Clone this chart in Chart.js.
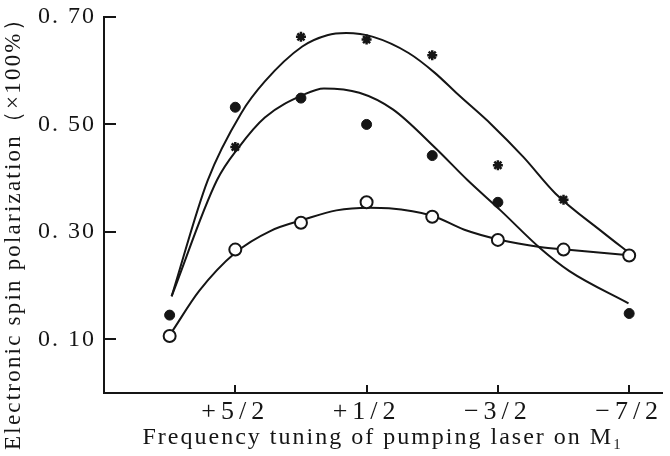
<!DOCTYPE html>
<html>
<head>
<meta charset="utf-8">
<script src="https://cdn.jsdelivr.net/npm/chart.js@4.4.0/dist/chart.umd.min.js"></script>
<style>
  html, body { margin: 0; padding: 0; background: #fff; }
</style>
</head>
<body>
<canvas id="chart" width="670" height="456"></canvas>
<script>
// M_I of the pumped hyperfine line (x) and measured polarization
const mValues = [3.5, 2.5, 1.5, 0.5, -0.5, -1.5, -2.5, -3.5];
const starPoints = [null, 0.458, 0.663, 0.658, 0.629, 0.424, 0.36, null];
const dotPoints = [0.145, 0.532, 0.549, 0.50, 0.442, 0.355, null, 0.148];
const ringPoints = [0.106, 0.267, 0.317, 0.355, 0.328, 0.285, 0.267, 0.256];

// hand drawn fit curves as [M, polarization]
const upperCurve = [[3.47, 0.18], [2.92, 0.396], [2.41, 0.521], [2.05, 0.580], [1.48, 0.645], [1.10, 0.666],
  [0.81, 0.670], [0.40, 0.663], [-0.14, 0.633], [-0.54, 0.596], [-0.89, 0.556], [-1.40, 0.500],
  [-1.89, 0.439], [-2.38, 0.371], [-3.09, 0.300], [-3.54, 0.257]];
const middleCurve = [[3.47, 0.18], [2.78, 0.396], [2.45, 0.457], [2.05, 0.513], [1.45, 0.556], [1.15, 0.567],
  [0.61, 0.559], [0.10, 0.528], [-0.54, 0.457], [-1.04, 0.396], [-1.54, 0.340],
  [-2.14, 0.270], [-2.59, 0.227], [-3.49, 0.167]];
const lowerCurve = [[3.46, 0.115], [3.05, 0.190], [2.50, 0.261], [1.96, 0.302], [1.45, 0.323], [0.96, 0.340],
  [0.46, 0.345], [0.16, 0.344], [-0.50, 0.330], [-0.99, 0.304], [-1.54, 0.285], [-2.14, 0.272],
  [-2.53, 0.267], [-3.54, 0.256]];

const xTickValues = [2.5, 0.5, -1.5, -3.5];
const xTickLabels = ['+5/2', '+1/2', '\u22123/2', '\u22127/2'];
const yTickValues = [0.1, 0.3, 0.5, 0.7];
const yTickLabels = ['0. 10', '0. 30', '0. 50', '0. 70'];

const xTitle = 'Frequency tuning of pumping laser on M\u2081';
const yTitle = 'Electronic spin polarization\uFF08\u00D7100%\uFF09';

const ink = '#151515';
const serif = '"Liberation Serif", "DejaVu Serif", serif';

const toPoints = vals => mValues.map((m, i) => ({ x: m, y: vals[i] })).filter(p => p.y !== null);
const toXY = pairs => pairs.map(p => ({ x: p[0], y: p[1] }));

const curve = pairs => ({
  data: toXY(pairs),
  showLine: true,
  borderColor: ink,
  borderWidth: 2,
  cubicInterpolationMode: 'monotone',
  pointRadius: 0,
  order: 2
});

// inward tick marks, the rotated y title and letter spacing of the print
const paperMarks = {
  id: 'paperMarks',
  beforeDraw(chart) {
    chart.ctx.letterSpacing = '2px';
  },
  afterDatasetsDraw(chart) {
    chart.ctx.letterSpacing = '5px';
  },
  afterDraw(chart) {
    const { ctx, chartArea } = chart;
    const x = chart.scales.x;
    const y = chart.scales.y;
    ctx.save();
    ctx.strokeStyle = ink;
    ctx.lineWidth = 2;
    ctx.beginPath();
    yTickValues.forEach(v => {
      const py = Math.round(y.getPixelForValue(v));
      ctx.moveTo(chartArea.left, py);
      ctx.lineTo(chartArea.left + 12, py);
    });
    xTickValues.forEach(v => {
      const px = Math.round(x.getPixelForValue(v));
      ctx.moveTo(px, chartArea.bottom);
      ctx.lineTo(px, chartArea.bottom - 8);
    });
    ctx.stroke();

    ctx.letterSpacing = '2.2px';
    ctx.font = '23px ' + serif;
    ctx.fillStyle = ink;
    ctx.translate(14, 228);
    ctx.rotate(-Math.PI / 2);
    ctx.textAlign = 'center';
    ctx.textBaseline = 'middle';
    ctx.fillText(yTitle, 0, 0);
    ctx.restore();
  }
};

new Chart(document.getElementById('chart'), {
  type: 'scatter',
  data: {
    datasets: [
      curve(upperCurve),
      curve(middleCurve),
      curve(lowerCurve),
      {
        data: toPoints(starPoints),
        pointStyle: 'star',
        pointRadius: 5,
        borderWidth: 2.5,
        borderColor: ink,
        backgroundColor: ink,
        order: 1
      },
      {
        data: toPoints(dotPoints),
        pointStyle: 'circle',
        pointRadius: 5,
        borderWidth: 1,
        borderColor: ink,
        backgroundColor: ink,
        order: 1
      },
      {
        data: toPoints(ringPoints),
        pointStyle: 'circle',
        pointRadius: 6,
        borderWidth: 2,
        borderColor: ink,
        backgroundColor: '#fff',
        order: 1
      }
    ]
  },
  options: {
    responsive: false,
    animation: false,
    events: [],
    layout: { padding: { top: 17, right: 0, left: 0, bottom: 0 } },
    plugins: {
      legend: { display: false },
      tooltip: { enabled: false }
    },
    scales: {
      x: {
        type: 'linear',
        reverse: true,
        min: -4,
        max: 4.5,
        afterBuildTicks: scale => {
          scale.ticks = xTickValues.map(v => ({ value: v }));
        },
        afterFit: scale => {
          scale.height = 63;
          scale.paddingLeft = 0;
          scale.paddingRight = 0;
        },
        grid: { display: true, drawOnChartArea: false, drawTicks: false },
        border: { display: true, color: ink, width: 2 },
        ticks: {
          z: 1,
          padding: 4,
          maxRotation: 0,
          autoSkip: false,
          color: ink,
          font: { family: serif, size: 26 },
          callback: (v, i) => xTickLabels[i]
        },
        title: {
          display: true,
          text: xTitle,
          color: ink,
          font: { family: serif, size: 24 },
          padding: { top: 0, bottom: 4 }
        }
      },
      y: {
        min: 0,
        max: 0.7,
        afterBuildTicks: scale => {
          scale.ticks = yTickValues.map(v => ({ value: v }));
        },
        afterFit: scale => {
          scale.width = 104;
          scale.paddingTop = 0;
          scale.paddingBottom = 0;
        },
        grid: { display: true, drawOnChartArea: false, drawTicks: false },
        border: { display: true, color: ink, width: 2 },
        ticks: {
          padding: 8,
          autoSkip: false,
          color: ink,
          font: { family: serif, size: 24 },
          callback: (v, i) => yTickLabels[i]
        },
        title: { display: false }
      }
    }
  },
  plugins: [paperMarks]
});
</script>
</body>
</html>
